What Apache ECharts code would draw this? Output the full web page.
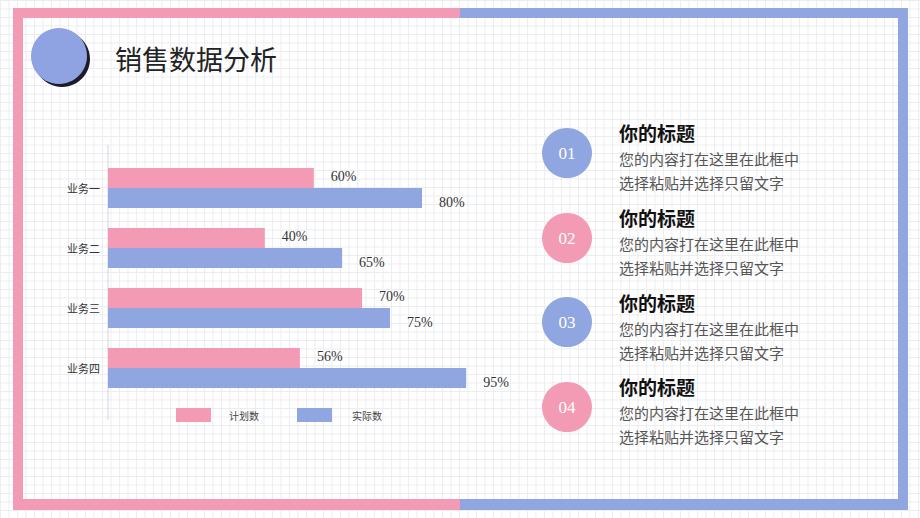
<!DOCTYPE html>
<html>
<head>
<meta charset="utf-8">
<script src="https://cdn.jsdelivr.net/npm/echarts@6/dist/echarts.min.js"></script>
<style>
html,body{margin:0;padding:0;}
body{
  width:920px;height:518px;overflow:hidden;background-color:#fff;
  background-image:
    linear-gradient(to right, #ebecef 1px, transparent 1px),
    linear-gradient(to bottom, #ebecef 1px, transparent 1px);
  background-size:8.5px 8.5px;
}
#chart{width:920px;height:518px;}
</style>
</head>
<body>
<div id="chart"></div>
<script>
// ---- data ----
const categories = ['业务一', '业务二', '业务三', '业务四'];
const seriesNames = ['计划数', '实际数'];
// bar lengths (percent units)
const planValues = [54.6, 41.6, 67.4, 50.9];
const actualValues = [83.3, 62.1, 74.8, 95.0];
// value labels printed on the chart
const planLabels = ['60%', '40%', '70%', '56%'];
const actualLabels = ['80%', '65%', '75%', '95%'];
// side panel text
const itemNumbers = ['01', '02', '03', '04'];
const itemTitles = ['你的标题', '你的标题', '你的标题', '你的标题'];
const itemLine1 = ['您的内容打在这里在此框中', '您的内容打在这里在此框中', '您的内容打在这里在此框中', '您的内容打在这里在此框中'];
const itemLine2 = ['选择粘贴并选择只留文字', '选择粘贴并选择只留文字', '选择粘贴并选择只留文字', '选择粘贴并选择只留文字'];
const pageTitle = '销售数据分析';

const PINK = '#f39bb4';
const BLUE = '#90a6e0';

const chart = echarts.init(document.getElementById('chart'), null, {renderer: 'svg'});

const graphics = [];
// frame
graphics.push({type:'rect', shape:{x:13,y:8,width:447,height:10}, style:{fill:PINK}, silent:true});
graphics.push({type:'rect', shape:{x:460,y:8,width:448,height:10}, style:{fill:BLUE}, silent:true});
graphics.push({type:'rect', shape:{x:13,y:8,width:10,height:502}, style:{fill:PINK}, silent:true});
graphics.push({type:'rect', shape:{x:898,y:8,width:10,height:502}, style:{fill:BLUE}, silent:true});
graphics.push({type:'rect', shape:{x:13,y:499,width:447,height:11}, style:{fill:PINK}, silent:true});
graphics.push({type:'rect', shape:{x:460,y:499,width:448,height:11}, style:{fill:BLUE}, silent:true});
// header circle with shadow
graphics.push({type:'circle', shape:{cx:62,cy:59,r:28}, style:{fill:'#1c1c28'}, silent:true});
graphics.push({type:'circle', shape:{cx:59,cy:56,r:28}, style:{fill:'#8fa2e2'}, silent:true});
graphics.push({type:'text', x:115, y:58, style:{text:pageTitle, font:'normal 27px "Noto Sans CJK SC"', fill:'#222', verticalAlign:'middle', align:'left'}, silent:true});
// axis line
graphics.push({type:'line', shape:{x1:108,y1:145,x2:108,y2:420}, style:{stroke:'#d0d4da', lineWidth:1}, silent:true});
// side items
const circleY = [153, 238, 322, 407];
const titleY = [132, 217, 302, 386];
for (let i = 0; i < itemNumbers.length; i++) {
  const col = i % 2 === 0 ? BLUE : PINK;
  graphics.push({type:'circle', shape:{cx:567,cy:circleY[i],r:25}, style:{fill:col}, silent:true});
  graphics.push({type:'text', x:567, y:circleY[i], style:{text:itemNumbers[i], font:'normal 17px "Liberation Serif"', fill:'#fff', align:'center', verticalAlign:'middle'}, silent:true});
  graphics.push({type:'text', x:619, y:titleY[i], style:{text:itemTitles[i], font:'bold 19px "Noto Sans CJK SC"', fill:'#111', align:'left', verticalAlign:'middle'}, silent:true});
  graphics.push({type:'text', x:619, y:titleY[i]+26, style:{text:itemLine1[i], font:'normal 15px "Noto Sans CJK SC"', fill:'#555', align:'left', verticalAlign:'middle'}, silent:true});
  graphics.push({type:'text', x:619, y:titleY[i]+50, style:{text:itemLine2[i], font:'normal 15px "Noto Sans CJK SC"', fill:'#555', align:'left', verticalAlign:'middle'}, silent:true});
}

const labelStyle = {
  show: true, position: 'right', distance: 17,
  fontFamily: 'Liberation Serif', fontSize: 14, color: '#333'
};

chart.setOption({
  animation: false,
  grid: {left: 108, top: 158, width: 377, height: 240, containLabel: false},
  xAxis: {type: 'value', min: 0, max: 100, show: false},
  yAxis: {
    type: 'category', data: categories, inverse: true,
    axisLine: {show: false}, axisTick: {show: false}, splitLine: {show: false},
    axisLabel: {margin: 8, fontSize: 11, color: '#333', fontFamily: 'Noto Sans CJK SC'}
  },
  legend: [
    {data: [seriesNames[0]], left: 171, top: 403, itemWidth: 35, itemHeight: 14, icon: 'rect',
     textStyle: {fontSize: 10, color: '#444', fontFamily: 'Noto Sans CJK SC', padding: [0,0,0,13]}},
    {data: [seriesNames[1]], left: 292, top: 403, itemWidth: 35, itemHeight: 14, icon: 'rect',
     textStyle: {fontSize: 10, color: '#444', fontFamily: 'Noto Sans CJK SC', padding: [0,0,0,15]}}
  ],
  series: [
    {name: seriesNames[0], type: 'bar', data: planValues, barWidth: 20, barGap: '0%',
     itemStyle: {color: PINK},
     label: Object.assign({}, labelStyle, {offset: [0, -2], formatter: p => planLabels[p.dataIndex]})},
    {name: seriesNames[1], type: 'bar', data: actualValues, barWidth: 20, barGap: '0%',
     itemStyle: {color: BLUE},
     label: Object.assign({}, labelStyle, {offset: [0, 4], formatter: p => actualLabels[p.dataIndex]})}
  ],
  graphic: graphics
});
</script>
</body>
</html>
